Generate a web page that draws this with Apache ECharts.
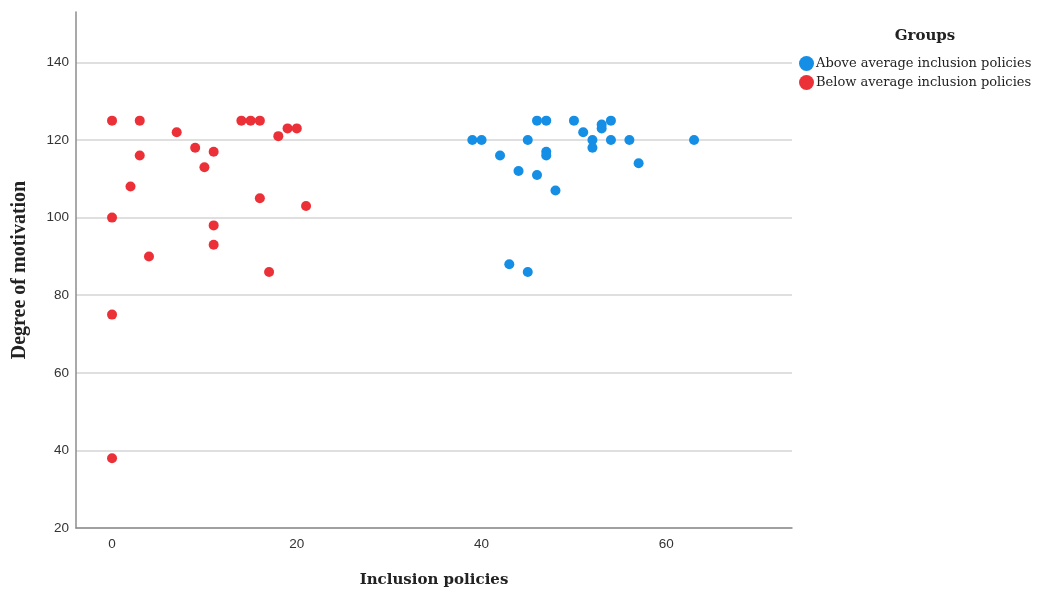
<!DOCTYPE html>
<html>
<head>
<meta charset="utf-8">
<script src="https://cdn.jsdelivr.net/npm/echarts@6/dist/echarts.min.js"></script>
<style>html,body{margin:0;padding:0;background:#fff;}#c{width:1048px;height:592px;}</style>
</head>
<body>
<div id="c"></div>
<script>
var xTicks = [0, 20, 40, 60];
var yTicks = [20, 40, 60, 80, 100, 120, 140];
var aboveX = [39, 40, 42, 44, 45, 46, 47, 46, 47, 47, 48, 50, 51, 52, 52, 53, 53, 54, 54, 56, 57, 63, 43, 45];
var aboveY = [120, 120, 116, 112, 120, 125, 125, 111, 117, 116, 107, 125, 122, 120, 118, 124, 123, 125, 120, 120, 114, 120, 88, 86];
var belowX = [0, 0, 0, 0, 2, 3, 3, 4, 7, 9, 10, 11, 11, 11, 14, 15, 16, 16, 17, 18, 19, 20, 21];
var belowY = [125, 100, 75, 38, 108, 125, 116, 90, 122, 118, 113, 117, 98, 93, 125, 125, 125, 105, 86, 121, 123, 123, 103];
var groupNames = ['Above average inclusion policies', 'Below average inclusion policies'];

function pairs(xs, ys) { return xs.map(function (x, i) { return [x, ys[i]]; }); }

var chart = echarts.init(document.getElementById('c'));
chart.setOption({
  animation: false,
  backgroundColor: '#fff',
  title: {
    text: 'Groups', left: 920, top: 24, textAlign: 'center',
    textStyle: { fontFamily: 'DejaVu Serif', fontSize: 15, fontWeight: 'bold', color: '#222' }
  },
  legend: {
    orient: 'vertical', left: 794, top: 51, itemGap: 4, itemWidth: 15, itemHeight: 15,
    icon: 'circle', data: groupNames,
    textStyle: { fontFamily: 'DejaVu Serif', fontSize: 13, color: '#222', padding: [0, 0, 0, -3] }
  },
  grid: { left: 76, right: 256, top: 12, bottom: 64, outerBoundsMode: 'none', containLabel: false },
  xAxis: {
    type: 'value', min: -3.9, max: 73.6,
    name: 'Inclusion policies', nameLocation: 'middle', nameGap: 45,
    nameTextStyle: { fontFamily: 'DejaVu Serif', fontSize: 15, fontWeight: 'bold', color: '#222' },
    axisLine: { show: true, onZero: false, lineStyle: { color: '#8c8c8c', width: 1.5 } },
    axisTick: { show: false, customValues: xTicks },
    axisLabel: { customValues: xTicks, margin: 9, fontFamily: 'Liberation Sans', fontSize: 13.5, color: '#333' },
    splitLine: { show: false }
  },
  yAxis: {
    type: 'value', min: 20, max: 153,
    name: 'Degree of motivation', nameLocation: 'middle', nameGap: 46, nameRotate: 90,
    nameTextStyle: { fontFamily: 'Liberation Serif', fontSize: 20, fontWeight: 'bold', color: '#222' },
    axisLine: { show: true, onZero: false, lineStyle: { color: '#8c8c8c', width: 1.5 } },
    axisTick: { show: false, customValues: yTicks },
    axisLabel: { customValues: yTicks, margin: 7, fontFamily: 'Liberation Sans', fontSize: 13.5, color: '#333' },
    splitLine: { show: true, lineStyle: { color: '#d4d4d4', width: 1.5 } }
  },
  series: [
    { name: groupNames[0], type: 'scatter', symbolSize: 10, itemStyle: { color: '#158ee6', opacity: 1 }, data: pairs(aboveX, aboveY) },
    { name: groupNames[1], type: 'scatter', symbolSize: 10, itemStyle: { color: '#ec3037', opacity: 1 }, data: pairs(belowX, belowY) }
  ]
});
</script>
</body>
</html>
